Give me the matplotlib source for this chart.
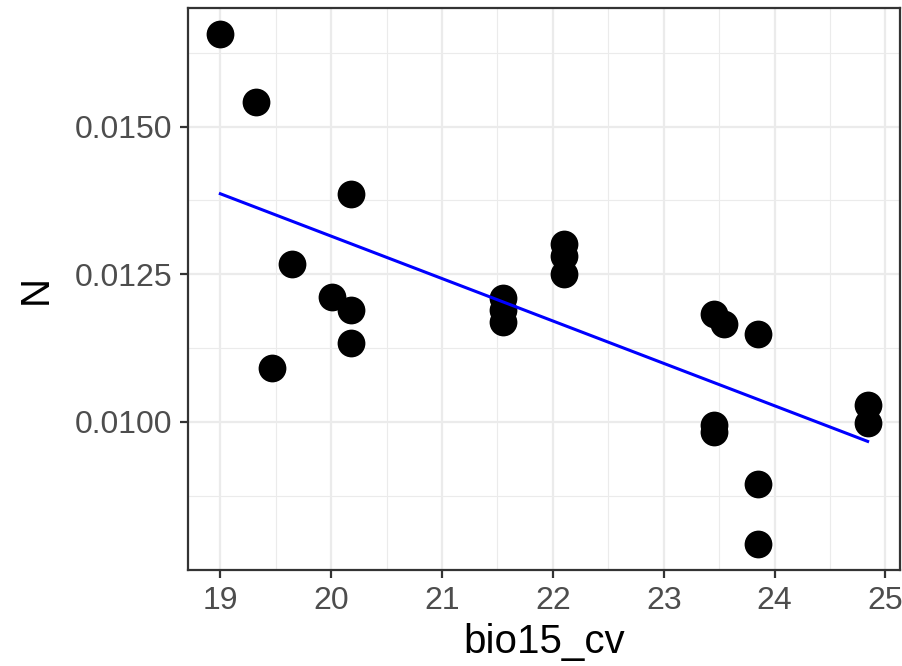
import numpy as np
import matplotlib.pyplot as plt
from matplotlib.ticker import FixedLocator, FormatStrFormatter

plt.rcParams['font.family'] = ['Liberation Sans', 'DejaVu Sans']

# bio15_cv vs N
bio15_cv = [19.00, 19.32, 19.47, 19.65, 20.01, 20.18, 20.18, 20.18,
            21.55, 21.55, 21.55, 22.10, 22.10, 22.10,
            23.45, 23.54, 23.45, 23.45, 23.85, 23.85, 23.85, 24.84, 24.84]
N = [0.016575, 0.015418, 0.010918, 0.01268, 0.012116, 0.013865, 0.01189, 0.011341,
     0.012099, 0.011895, 0.011692, 0.013018, 0.01281, 0.012505,
     0.011833, 0.011663, 0.009947, 0.00983, 0.011484, 0.008943, 0.007927, 0.010286, 0.009986]

x = np.array(bio15_cv)
y = np.array(N)

fig = plt.figure(figsize=(9.02, 6.66), dpi=100)
ax = fig.add_axes([188/902, 1 - 570/666, (900 - 188)/902, (570 - 8)/666])

ax.set_facecolor('white')
ax.set_axisbelow(True)

# limits with ggplot-like 5% expansion
xr = x.max() - x.min()
yr = y.max() - y.min()
ax.set_xlim(x.min() - 0.05*xr, x.max() + 0.05*xr)
ax.set_ylim(y.min() - 0.05*yr, y.max() + 0.05*yr)

ax.xaxis.set_major_locator(FixedLocator([19, 20, 21, 22, 23, 24, 25]))
ax.xaxis.set_minor_locator(FixedLocator([18.5, 19.5, 20.5, 21.5, 22.5, 23.5, 24.5, 25.5]))
ax.yaxis.set_major_locator(FixedLocator([0.0100, 0.0125, 0.0150]))
ax.yaxis.set_minor_locator(FixedLocator([0.00875, 0.01125, 0.01375, 0.01625]))
ax.yaxis.set_major_formatter(FormatStrFormatter('%.4f'))

ax.grid(which='major', color='#EBEBEB', linewidth=1.6)
ax.grid(which='minor', color='#EBEBEB', linewidth=0.8)

for s in ax.spines.values():
    s.set_color('#333333')
    s.set_linewidth(1.6)

ax.tick_params(which='major', length=5.5, width=1.6, color='#333333',
               labelsize=23, labelcolor='#4D4D4D', pad=6)
ax.tick_params(which='minor', length=0)

ax.scatter(x, y, s=400, color='black', zorder=3, linewidths=0)

# linear fit (lm)
b, a = np.polyfit(x, y, 1)
xs = np.array([x.min(), x.max()])
ax.plot(xs, a + b*xs, color='blue', linewidth=2.2, zorder=4)

ax.set_xlabel('bio15_cv', fontsize=29, color='black', labelpad=5)
ax.set_ylabel('N', fontsize=29, color='black', labelpad=14)

fig.savefig('out.png', dpi=100)
